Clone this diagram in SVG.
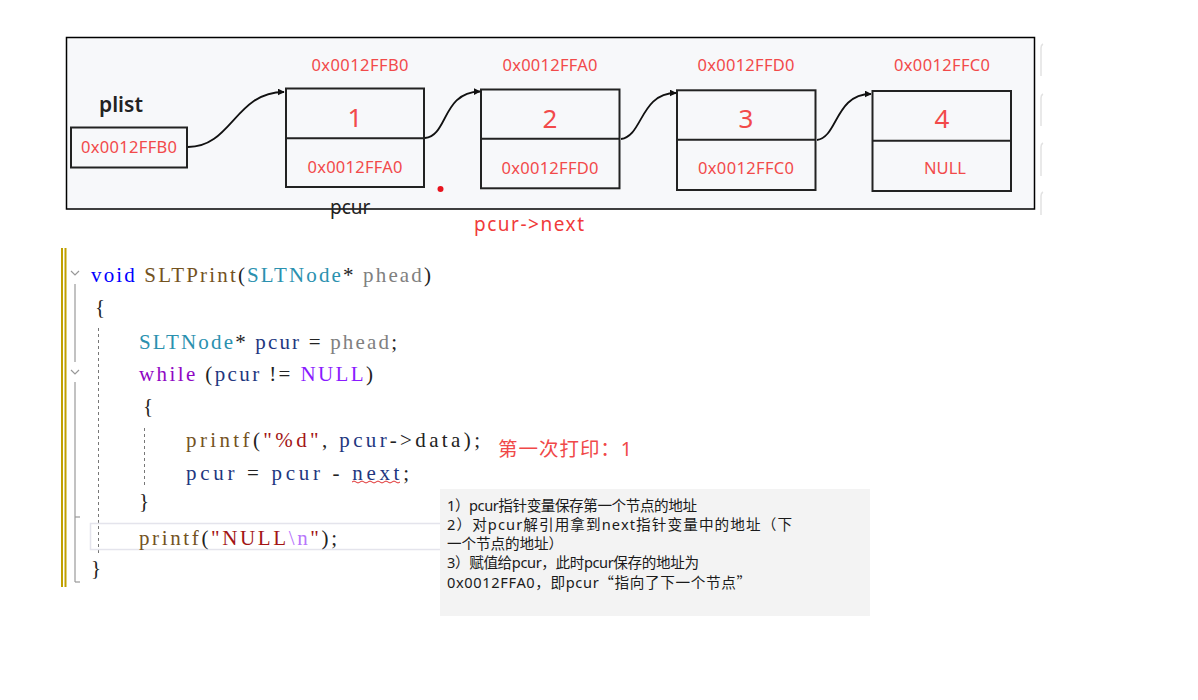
<svg xmlns="http://www.w3.org/2000/svg" width="1198" height="700" viewBox="0 0 1198 700">
<style>
.box{fill:none;stroke:#222;stroke-width:2}
.addr{font-family:"Noto Sans","Liberation Sans",sans-serif;font-size:16.5px;fill:#f24a4a;text-anchor:middle}
.big{font-family:"Noto Sans","Liberation Sans",sans-serif;font-size:26px;fill:#f24a4a;text-anchor:middle}
.lbl{font-family:"Noto Sans","Liberation Sans",sans-serif;font-size:19px;fill:#222}
.code{font-family:"Liberation Serif","DejaVu Serif",serif;font-size:21px;fill:#222}
.note{font-family:"Noto Sans","Noto Sans CJK SC",sans-serif;font-size:14.6px;fill:#1a1a1a}
.cq{font-family:"Noto Sans CJK SC",sans-serif}
.conn{fill:none;stroke:#111;stroke-width:1.8}
.kw{fill:#0000ff}.fn{fill:#74531f}.ty{fill:#2b91af}.pa{fill:#808080}.lv{fill:#1f377f}.ck{fill:#8f08c4}.mc{fill:#8a1bff}.st{fill:#a31515}.es{fill:#b776fb}
</style>
<defs>
<marker id="arr" viewBox="0 0 10 10" refX="9" refY="5" markerWidth="7" markerHeight="7" orient="auto" markerUnits="userSpaceOnUse">
<path d="M0,0 L10,5 L0,10 z" fill="#111"/>
</marker>
</defs>
<rect width="1198" height="700" fill="#fff"/>
<!-- frame -->
<rect x="66.5" y="37.5" width="968" height="171.5" fill="#f7f8fa" stroke="#000" stroke-width="1.5"/>
<g stroke="#e2e2e2" stroke-width="1.5" fill="none">
<path d="M1043,44 Q1041,45 1041,48 V76"/><path d="M1043,94 Q1041,95 1041,98 V126"/><path d="M1043,143 Q1041,144 1041,147 V176"/><path d="M1043,192 Q1041,193 1041,196 V215"/>
</g>
<g id="plist">
<text class="lbl" x="99" y="112" style="font-size:21px;font-weight:600">plist</text>
<rect class="box" x="71" y="127.5" width="116" height="40"/>
<text class="addr" x="129" y="153" textLength="96">0x0012FFB0</text>
</g>
<g id="node1">
<text class="addr" x="360" y="71" textLength="97">0x0012FFB0</text>
<rect class="box" x="286" y="88.5" width="138" height="98.5"/>
<line class="box" x1="286" y1="138.3" x2="424" y2="138.3"/>
<text class="big" x="355" y="127">1</text>
<text class="addr" x="355" y="173" textLength="95">0x0012FFA0</text>
</g>
<g id="node2">
<text class="addr" x="550" y="71" textLength="95">0x0012FFA0</text>
<rect class="box" x="481" y="89.5" width="138.5" height="98.8"/>
<line class="box" x1="481" y1="138.7" x2="619.5" y2="138.7"/>
<text class="big" x="550" y="128">2</text>
<text class="addr" x="550" y="174" textLength="97">0x0012FFD0</text>
</g>
<g id="node3">
<text class="addr" x="746" y="71" textLength="97">0x0012FFD0</text>
<rect class="box" x="677" y="90.3" width="138.5" height="99.7"/>
<line class="box" x1="677" y1="139.7" x2="815.5" y2="139.7"/>
<text class="big" x="746" y="128">3</text>
<text class="addr" x="746" y="174" textLength="96">0x0012FFC0</text>
</g>
<g id="node4">
<text class="addr" x="942" y="71" textLength="96">0x0012FFC0</text>
<rect class="box" x="872.5" y="91" width="138.5" height="100"/>
<line class="box" x1="872.5" y1="140.7" x2="1011" y2="140.7"/>
<text class="big" x="942" y="128">4</text>
<text class="addr" x="945" y="174">NULL</text>
</g>
<g id="connectors">
<path class="conn" marker-end="url(#arr)" d="M188,147 C232,147 235,92 284,92"/>
<path class="conn" marker-end="url(#arr)" d="M425,138 C448,136 442,92 480,91.5"/>
<path class="conn" marker-end="url(#arr)" d="M621,139 C643,136 640,93 676,93"/>
<path class="conn" marker-end="url(#arr)" d="M817,140 C838,137 835,94 871,94"/>
</g>
<g id="pointer-labels">
<text class="lbl" x="330" y="214">pcur</text>
<text class="lbl" x="474" y="231" style="fill:#f03a3a" textLength="110">pcur-&gt;next</text>
<circle cx="440.5" cy="189" r="3" fill="#e8141e"/>
</g>
<!-- code editor -->
<g id="editor">
<line x1="62" y1="248" x2="62" y2="587" stroke="#c0a000" stroke-width="2"/>
<line x1="65.5" y1="248" x2="65.5" y2="587" stroke="#c0a000" stroke-width="2"/>
<g stroke="#999" stroke-width="1.2" fill="none">
<path d="M71,271 L75,275 L79,271"/><path d="M71,370 L75,374 L79,370"/>
<line x1="75" y1="284" x2="75" y2="362"/>
<line x1="75" y1="382" x2="75" y2="582"/>
<path d="M75,517 H80"/><path d="M75,582 H80"/>
</g>
<g stroke="#777" stroke-width="1" stroke-dasharray="3,3">
<line x1="98.5" y1="328" x2="98.5" y2="556"/>
<line x1="144.5" y1="428" x2="144.5" y2="486"/>
</g>
<rect x="90.5" y="523.5" width="360" height="26" fill="none" stroke="#e4e4ec" stroke-width="1.5"/>
<text class="code" x="91" y="282" textLength="340"><tspan class="kw">void</tspan> <tspan class="fn">SLTPrint</tspan>(<tspan class="ty">SLTNode</tspan>* <tspan class="pa">phead</tspan>)</text>
<text class="code" x="95" y="314">{</text>
<text class="code" x="139" y="349" textLength="258"><tspan class="ty">SLTNode</tspan>* <tspan class="lv">pcur</tspan> = <tspan class="pa">phead</tspan>;</text>
<text class="code" x="139" y="381" textLength="234"><tspan class="ck">while</tspan> (<tspan class="lv">pcur</tspan> != <tspan class="mc">NULL</tspan>)</text>
<text class="code" x="143" y="413">{</text>
<text class="code" x="186" y="447" textLength="294"><tspan class="fn">printf</tspan>(<tspan class="st">"%d"</tspan>, <tspan class="lv">pcur</tspan>-&gt;data);</text>
<text class="code" x="186" y="480" textLength="223"><tspan class="lv">pcur</tspan> = <tspan class="lv">pcur</tspan> - <tspan class="lv">next</tspan>;</text>
<path d="M352,482 q2,-2 4,0 t4,0 t4,0 t4,0 t4,0 t4,0 t4,0 t4,0 t4,0 t4,0 t4,0 t4,0" fill="none" stroke="#e03030" stroke-width="1"/>
<text class="code" x="139" y="508">}</text>
<text class="code" x="139" y="545" textLength="198"><tspan class="fn">printf</tspan>(<tspan class="st">"NULL</tspan><tspan class="es">\n</tspan><tspan class="st">"</tspan>);</text>
<text class="code" x="91" y="575">}</text>
</g>
<g id="result">
<text x="498" y="456" style="font-family:'Noto Sans','Noto Sans CJK SC',sans-serif;font-size:19.5px;fill:#f04848" textLength="134">第一次打印：1</text>
</g>
<g id="note">
<rect x="440" y="489" width="430" height="127" fill="#f3f3f3"/>
<text class="note" x="447" y="511" textLength="250">1）pcur指针变量保存第一个节点的地址</text>
<text class="note" x="447" y="530" textLength="345">2）对pcur解引用拿到next指针变量中的地址（下</text>
<text class="note" x="447" y="549" textLength="116">一个节点的地址）</text>
<text class="note" x="447" y="568" textLength="252">3）赋值给pcur，此时pcur保存的地址为</text>
<text class="note" x="447" y="588" textLength="304">0x0012FFA0，即pcur<tspan class="cq">“</tspan>指向了下一个节点<tspan class="cq">”</tspan></text>
</g>
</svg>
